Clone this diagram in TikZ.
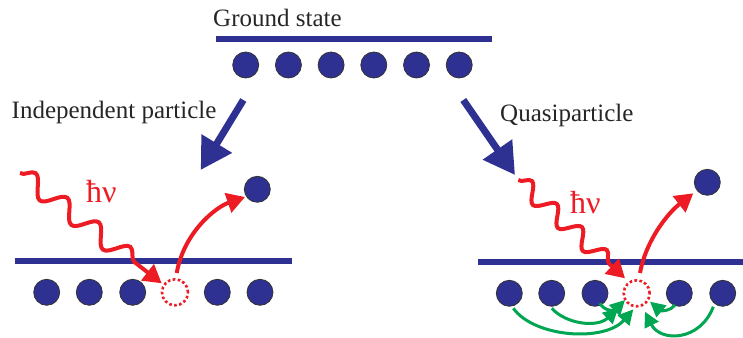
\documentclass[tikz,border=0pt]{standalone}
\usepackage{fontspec}
\setmainfont{Liberation Serif}
\usetikzlibrary{arrows.meta,decorations.pathmorphing}
\definecolor{cblue}{HTML}{2E3192}
\definecolor{cred}{HTML}{ED1C24}
\definecolor{cgreen}{HTML}{00A651}
\begin{document}
\begin{tikzpicture}[x=1pt,y=-1pt,
  level/.style={draw=cblue,line width=5.5pt},
  elec/.style={circle,fill=cblue,draw=black!80,line width=0.8pt,minimum size=26pt,inner sep=0pt},
  hole/.style={circle,draw=cred,line width=2.6pt,dash pattern=on 2.6pt off 2.4pt,minimum size=26pt,inner sep=0pt},
  bigarrow/.style={draw=cblue,line width=7pt,-{Triangle[length=31pt,width=34pt]}},
  redarrow/.style={draw=cred,line width=4pt,-{Triangle[length=18pt,width=20pt]}},
  greenarrow/.style={draw=cgreen,line width=3pt,-{Triangle[length=15pt,width=15pt]}},
  wave/.style={draw=cred,line width=4pt,-{Triangle[length=18pt,width=20pt]},decorate},
  lbl/.style={font=\fontsize{25}{30}\selectfont,anchor=base west,inner sep=0pt,text=black!85},
  hnu/.style={text=cred,font=\fontsize{32}{36}\selectfont,anchor=base west,inner sep=0pt}]
\useasboundingbox (0,0) rectangle (743,337);

% ---- ground state ----
\node[lbl] (gs) at (213,26.5) {Ground state};
\coordinate (gsL) at (216,39);
\coordinate (gsR) at (492,39);
\draw[level] (gsL) -- (gsR);
\foreach \i in {1,...,6}{
  \node[elec] (t\i) at ({245.7+42.7*(\i-1)},65) {};
}

% ---- labels and big arrows ----
\node[lbl] (ip) at (11.5,118.3) {Independent particle};
\node[lbl] (qp) at (500,121.5) {Quasiparticle};
\coordinate (ba1s) at (243.3,100);
\coordinate (ba1e) at (200.7,170);
\coordinate (ba2s) at (463.3,100);
\coordinate (ba2e) at (515,175);
\draw[bigarrow] (ba1s) -- (ba1e);
\draw[bigarrow] (ba2s) -- (ba2e);

% ---- left panel ----
\coordinate (lL) at (15,261);
\coordinate (lR) at (292,261);
\draw[level] (lL) -- (lR);
\node[elec] (l1) at (46.7,292.3) {};
\node[elec] (l2) at (89.3,292.3) {};
\node[elec] (l3) at (132.7,292.3) {};
\node[hole] (lh) at (175,292.3) {};
\node[elec] (l5) at (217.3,292.3) {};
\node[elec] (l6) at (260,292.3) {};
\node[elec] (lx) at (257.3,189.3) {};
\node[hnu] (lhn) at (86,202) {ħν};
\coordinate (lws) at (20,173);
\coordinate (lwe) at (161.7,283.3);
\draw[wave,decoration={snake,amplitude=9.5pt,segment length=40pt,post length=24pt}] (lws) -- (lwe);
\coordinate (lrs) at (176.7,273);
\coordinate (lre) at (245,197);
\draw[redarrow] (lrs) .. controls (184,232) and (216,207) .. (lre);

% ---- right panel ----
\coordinate (rL) at (478,262);
\coordinate (rR) at (743,262);
\draw[level] (rL) -- (rR);
\node[elec] (r1) at (509.3,293.3) {};
\node[elec] (r2) at (551.7,293.3) {};
\node[elec] (r3) at (595,293.3) {};
\node[hole] (rh) at (636.7,293.3) {};
\node[elec] (r5) at (679.3,293.3) {};
\node[elec] (r6) at (722.7,293.3) {};
\node[elec] (rx) at (707.3,182.3) {};
\node[hnu] (rhn) at (570,213.5) {ħν};
\coordinate (rws) at (518.3,180);
\coordinate (rwe) at (625,278.3);
\draw[wave,decoration={snake,amplitude=8.5pt,segment length=34pt,post length=20pt}] (rws) -- (rwe);
\coordinate (rrs) at (640,273);
\coordinate (rre) at (693.3,193.3);
\draw[redarrow] (rrs) .. controls (646,240) and (668,213) .. (rre);

% ---- green arrows ----
\coordinate (g1s) at (513.3,308.3);
\coordinate (g1e) at (633.3,309.3);
\coordinate (g2s) at (551.7,308.3);
\coordinate (g2e) at (618.3,308.3);
\coordinate (g3s) at (600,303.3);
\coordinate (g3e) at (625,300);
\coordinate (g4s) at (675,305);
\coordinate (g4e) at (650,301.7);
\coordinate (g5s) at (713.3,306.7);
\coordinate (g5e) at (645,311.7);
\draw[greenarrow] (g1s) .. controls (535,338) and (605,342) .. (g1e);
\draw[greenarrow] (g2s) .. controls (566,324) and (597,328) .. (g2e);
\draw[greenarrow] (g3s) .. controls (604,311) and (614,311) .. (g3e);
\draw[greenarrow] (g4s) .. controls (671,311) and (661,311) .. (g4e);
\draw[greenarrow] (g5s) .. controls (700,342) and (660,342) .. (g5e);
\end{tikzpicture}
\end{document}
